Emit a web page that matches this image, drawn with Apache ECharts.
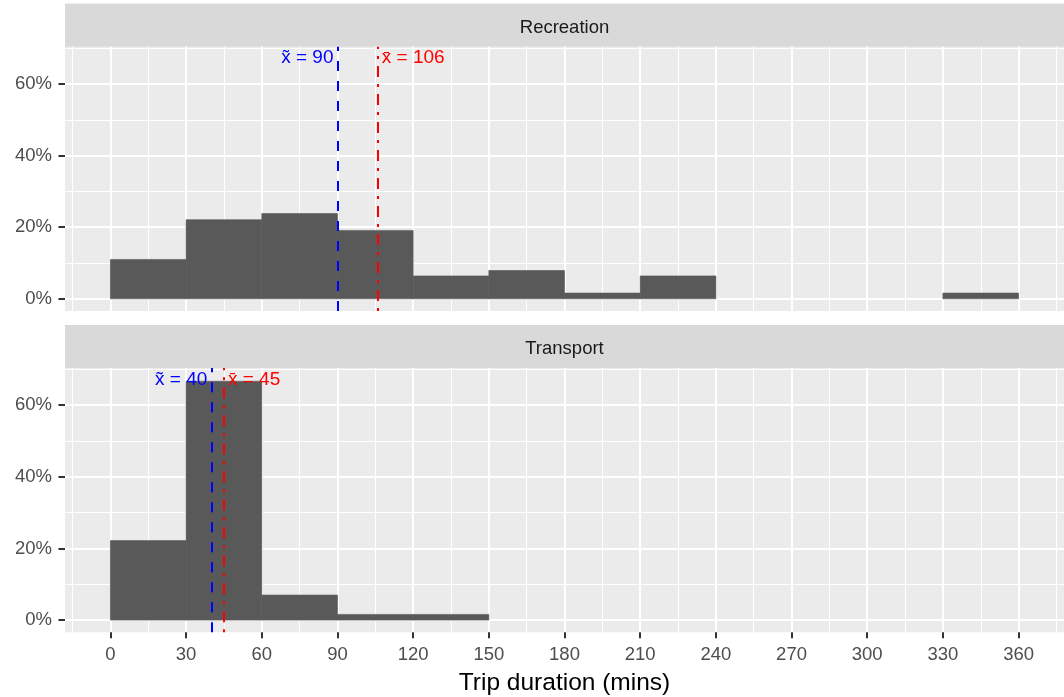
<!DOCTYPE html>
<html>
<head>
<meta charset="utf-8">
<script src="https://cdn.jsdelivr.net/npm/echarts@6/dist/echarts.min.js"></script>
<style>
html,body{margin:0;padding:0;background:#fff;}
#chart{width:1064px;height:697px;}
</style>
</head>
<body>
<div id="chart"></div>
<script>
// ---- data ----
const facets = ['Recreation', 'Transport'];
const binEdges = [0, 30, 60, 90, 120, 150, 180, 210, 240, 270, 300, 330, 360];
const recreationPct = [11.0, 22.1, 23.8, 19.1, 6.4, 7.9, 1.6, 6.4, 0, 0, 0, 1.6];
const transportPct  = [22.2, 66.7, 7.0, 1.6, 1.6, 0, 0, 0, 0, 0, 0, 0];
const recreationMedian = 90, recreationMean = 106;
const transportMedian = 40, transportMean = 45;
const xTickValues = [0, 30, 60, 90, 120, 150, 180, 210, 240, 270, 300, 330, 360];
const xMinorValues = [-15, 15, 45, 75, 105, 135, 165, 195, 225, 255, 285, 315, 345, 375];
const yTickValues = [0, 20, 40, 60];
const yMinorValues = [10, 30, 50, 70];

const X_MIN = -18, X_MAX = 378;
const Y_MIN = -3.4, Y_MAX = 70.4;

const FONT = '"Liberation Sans", Arial, sans-serif';
const chart = echarts.init(document.getElementById('chart'), null, {renderer: 'canvas'});

const gridsLayout = [
  {left: 65, top: 46.7, width: 999, height: 264.3},
  {left: 65, top: 368, width: 999, height: 264.3}
];
const stripLayout = [
  {y: 3.5, h: 43.2},
  {y: 325, h: 43}
];

function binData(pct) {
  const out = [];
  pct.forEach((v, i) => { if (v > 0) out.push([binEdges[i], binEdges[i + 1], v]); });
  return out;
}

const xAxes = [], yAxes = [], series = [], grids = [], graphics = [];
const pcts = [recreationPct, transportPct];
const medians = [recreationMedian, transportMedian];
const means = [recreationMean, transportMean];

facets.forEach((name, g) => {
  grids.push(Object.assign({containLabel: false, outerBoundsMode: 'none', show: true, backgroundColor: '#EBEBEB', borderWidth: 0}, gridsLayout[g]));
  const isBottom = g === facets.length - 1;
  // major x
  xAxes.push({
    type: 'value', gridIndex: g, min: X_MIN, max: X_MAX, position: 'bottom',
    axisLine: {show: false, onZero: false},
    axisTick: {show: isBottom, customValues: xTickValues, length: 6, lineStyle: {color: '#333333', width: 2}},
    axisLabel: {show: isBottom, customValues: xTickValues, color: '#4D4D4D', fontSize: 18.5, fontFamily: FONT, margin: 13},
    splitLine: {show: true, lineStyle: {color: '#FFFFFF', width: 2}},
    name: isBottom ? 'Trip duration (mins)' : '',
    nameLocation: 'middle', nameGap: 38,
    nameTextStyle: {color: '#000000', fontSize: 24.5, fontFamily: FONT}
  });
  // minor x
  xAxes.push({
    type: 'value', gridIndex: g, min: X_MIN, max: X_MAX, position: 'top',
    axisLine: {show: false, onZero: false},
    axisTick: {show: false, customValues: xMinorValues},
    axisLabel: {show: false, customValues: xMinorValues},
    splitLine: {show: true, lineStyle: {color: '#FFFFFF', width: 1}}
  });
  // major y
  yAxes.push({
    type: 'value', gridIndex: g, min: Y_MIN, max: Y_MAX, position: 'left',
    axisLine: {show: false, onZero: false},
    axisTick: {show: true, customValues: yTickValues, length: 6.5, lineStyle: {color: '#333333', width: 2}},
    axisLabel: {show: true, customValues: yTickValues, color: '#4D4D4D', fontSize: 18.5, fontFamily: FONT, margin: 13, formatter: v => v + '%'},
    splitLine: {show: true, lineStyle: {color: '#FFFFFF', width: 2}}
  });
  // minor y
  yAxes.push({
    type: 'value', gridIndex: g, min: Y_MIN, max: Y_MAX, position: 'right',
    axisLine: {show: false, onZero: false},
    axisTick: {show: false, customValues: yMinorValues},
    axisLabel: {show: false, customValues: yMinorValues},
    splitLine: {show: true, lineStyle: {color: '#FFFFFF', width: 1}}
  });

  const xi = g * 2, yi = g * 2;
  // histogram bars
  series.push({
    type: 'custom', xAxisIndex: xi, yAxisIndex: yi, coordinateSystem: 'cartesian2d',
    data: binData(pcts[g]), encode: {x: [0, 1], y: 2}, z: 3,
    renderItem(params, api) {
      const p0 = api.coord([api.value(0), api.value(2)]);
      const p1 = api.coord([api.value(1), 0]);
      return {type: 'rect', shape: {x: p0[0], y: p0[1], width: p1[0] - p0[0], height: p1[1] - p0[1]},
        style: {fill: '#595959', stroke: '#595959', lineWidth: 0.6}};
    }
  });
  // median / mean lines
  series.push({
    type: 'line', xAxisIndex: xi, yAxisIndex: yi, data: [], z: 4,
    markLine: {
      silent: true, symbol: ['none', 'none'], animation: false,
      label: {show: false},
      data: [
        {xAxis: medians[g], lineStyle: {color: '#0000FF', width: 2, type: [10, 10]}},
        {xAxis: means[g], lineStyle: {color: '#FF0000', width: 2, type: [3, 7, 11, 7]}}
      ]
    }
  });
  // labels
  series.push({
    type: 'custom', xAxisIndex: xi, yAxisIndex: yi, coordinateSystem: 'cartesian2d',
    data: [[medians[g], Y_MAX], [means[g], Y_MAX]], encode: {x: 0, y: 1}, z: 5, clip: false,
    renderItem(params, api) {
      const p = api.coord([api.value(0), api.value(1)]);
      const isMedian = params.dataIndex === 0;
      return {
        type: 'text',
        x: p[0] + (isMedian ? -4 : 4), y: p[1] + 11.5,
        style: {
          text: (isMedian ? 'x\u0303 = ' : 'x\u0304 = ') + api.value(0),
          fill: isMedian ? '#0000FF' : '#FF0000',
          font: '19px ' + FONT,
          align: isMedian ? 'right' : 'left',
          verticalAlign: 'middle'
        }
      };
    }
  });

  // strip
  graphics.push({
    type: 'rect', left: 65, top: stripLayout[g].y, silent: true,
    shape: {width: 999, height: stripLayout[g].h}, style: {fill: '#D9D9D9'}
  });
  graphics.push({
    type: 'text', silent: true,
    x: 65 + 999 / 2, y: stripLayout[g].y + stripLayout[g].h / 2 + 2.5,
    style: {text: name, fill: '#1A1A1A', font: '18.5px ' + FONT, align: 'center', verticalAlign: 'middle'}
  });
});

chart.setOption({
  animation: false,
  backgroundColor: '#FFFFFF',
  grid: grids,
  xAxis: xAxes,
  yAxis: yAxes,
  series: series,
  graphic: graphics
});
</script>
</body>
</html>
